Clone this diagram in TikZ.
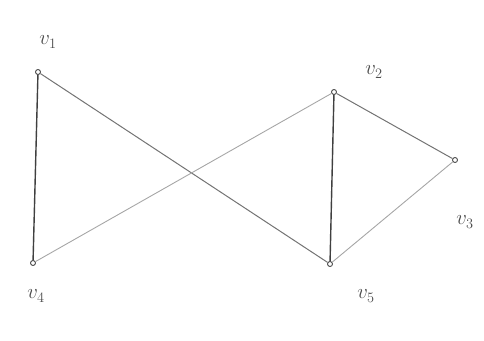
\documentclass[tikz,border=0pt]{standalone}
\usepackage{tikz}
\tikzset{
  gv node/.style={
    circle,draw=black!70,fill=white,minimum size=5pt,
    inner sep=0pt,line width=0.9pt
  },
  gv edge/.style={black!55,line width=1pt},
  gv faint/.style={black!35,line width=0.9pt},
  gv side/.style={black!75,line width=1.4pt},
  gv label/.style={font=\huge,text=black!70}
}
\begin{document}
\begin{tikzpicture}[x=1pt,y=-1pt]
  \useasboundingbox (0,0) rectangle (484,340);
  \node[gv node] (v1) at (38,72) {};
  \node[gv node] (v2) at (334,92) {};
  \node[gv node] (v3) at (455,160) {};
  \node[gv node] (v4) at (33,263) {};
  \node[gv node] (v5) at (330,264) {};
  \node[gv label] (l1) at (48,42) {$v_1$};
  \node[gv label] (l2) at (374,72) {$v_2$};
  \node[gv label] (l3) at (465,222) {$v_3$};
  \node[gv label] (l4) at (36,296) {$v_4$};
  \node[gv label] (l5) at (366,296) {$v_5$};
  \draw[gv side] (v1)--(v4) (v2)--(v5);
  \draw[gv edge] (v1)--(v5) (v2)--(v3);
  \draw[gv faint] (v4)--(v2) (v3)--(v5);
\end{tikzpicture}
\end{document}
